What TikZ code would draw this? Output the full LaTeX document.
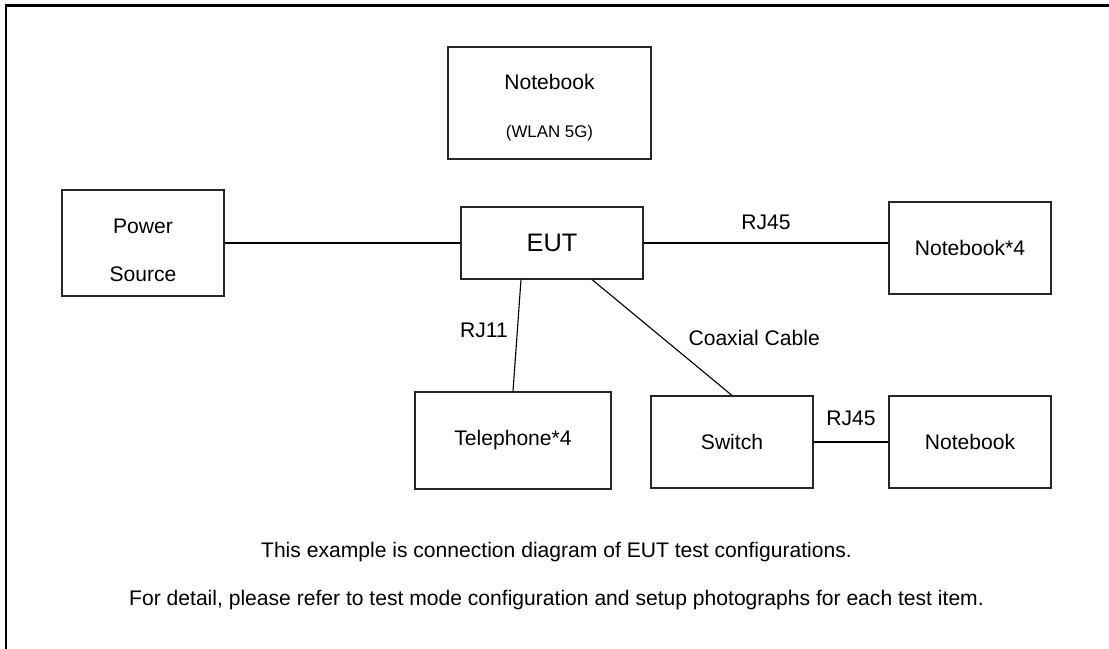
\documentclass[tikz,border=0pt]{standalone}
\usepackage{fontspec}
\setmainfont{Liberation Sans}
\usetikzlibrary{positioning}

\begin{document}
\begin{tikzpicture}[
        font=\fontsize{15}{34}\selectfont,
        unit/.style={rectangle, draw=black!85, line width=0.8pt, minimum width=4.05cm, minimum height=2.3cm, align=center, inner sep=0pt},
        wire/.style={line width=0.8pt, draw=black},
        cable/.style={font=\fontsize{15}{18}\selectfont, inner sep=0pt},
        frame/.style={line width=1.6pt, draw=black}
    ]
        \useasboundingbox (0,0) rectangle (27.725,16.225);
        % --- outer frame (only top and left edges show) ---
        \coordinate (fr) at (0.15, 16.0875);
        \draw[frame] (fr |- 0,0) -- (fr) -- (27.725,16.0875);

        % --- devices ---
        \node[unit, minimum width=5.075cm, minimum height=2.8cm] (wlan) at (13.7375, 13.65) {\rule{0pt}{18pt}Notebook\\{\fontsize{12}{14}\selectfont (WLAN 5G)}};
        \node[unit, minimum height=2.65cm] (pwr) at (3.575, 10.15) {\rule{0pt}{20.7pt}Power\\Source};
        \node[unit, minimum width=4.55cm, minimum height=1.8cm, font=\fontsize{18}{22}\selectfont] (eut) at (13.8, 10.15) {EUT};
        \node[unit] (nbq) at (24.25, 10.025) {Notebook*4};
        \node[unit, minimum width=4.9cm, minimum height=2.425cm] (tel) at (12.825, 5.2125) {Telephone*4};
        \node[unit] (sw) at (18.3, 5.175) {Switch};
        \node[unit] (nb) at (24.25, 5.175) {Notebook};

        % --- cables ---
        \draw[wire] (pwr) -- (eut);
        \draw[wire] (eut.east) -- (eut.east -| nbq.west) node[cable, midway, above=8.8pt] {RJ45};
        \draw[wire] ([xshift=-0.775cm]eut.south) -- (tel.north) node[cable, pos=0.45, left=6.4pt] {RJ11};
        \draw[wire] ([xshift=1cm]eut.south) -- (sw.north) node[cable, midway, right=18.5pt] {Coaxial Cable};
        \draw[wire] (sw) -- (nb) node[cable, midway, above=11pt] {RJ45};

        % --- note ---
        \node[align=center] (note) at (13.9125, 1.825) {This example is connection diagram of EUT test configurations.\\For detail, please refer to test mode configuration and setup photographs for each test item.};
    \end{tikzpicture}
\end{document}
